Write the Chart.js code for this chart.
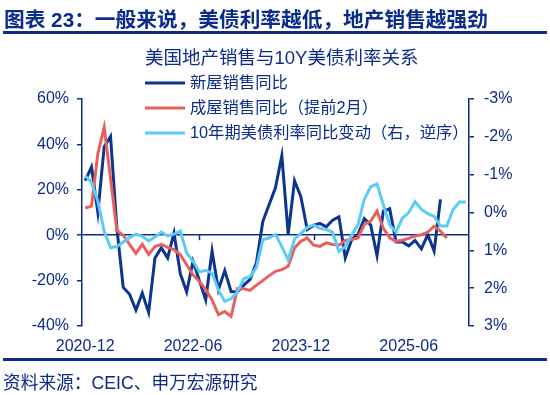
<!DOCTYPE html>
<html>
<head>
<meta charset="utf-8">
<script src="https://cdn.jsdelivr.net/npm/chart.js@4"></script>
<style>
  body { margin: 0; background: #fff; }
  #wrap { position: relative; width: 550px; height: 395px; font-family: "Liberation Sans", "Noto Sans CJK SC", sans-serif; color: #0B2C8A; }
  #head { position: absolute; left: 4px; top: 3px; font-size: 20.7px; font-weight: bold; white-space: nowrap; }
  #rule1, #rule2 { position: absolute; left: 3px; width: 544px; height: 3px; background: #0B2C8A; }
  #rule1 { top: 31px; }
  #rule2 { top: 358px; }
  #ctitle { position: absolute; left: 145px; top: 43px; font-size: 18.5px; white-space: nowrap; }
  #source { position: absolute; left: 3px; top: 368px; font-size: 17.7px; white-space: nowrap; }
  canvas { position: absolute; left: 0; top: 0; }
</style>
</head>
<body>
<div id="wrap">
  <canvas id="myChart" width="550" height="395"></canvas>
  <div id="head">图表 23：一般来说，美债利率越低，地产销售越强劲</div>
  <div id="rule1"></div>
  <div id="ctitle">美国地产销售与10Y美债利率关系</div>
  <div id="rule2"></div>
  <div id="source">资料来源：CEIC、申万宏源研究</div>
</div>
<script>
// months 2020-12 .. 2025-12
const months = [];
for (let i = 0; i < 61; i++) {
  const d = new Date(2020, 11 + i, 1);
  months.push(d.getFullYear() + '-' + String(d.getMonth() + 1).padStart(2, '0'));
}
const tickLabels = ['2020-12', '2022-06', '2023-12', '2025-06'];
const tickIndex = [0, 17, 34, 51];
const tickMarks = [18, 36, 54];

// 新屋销售同比 (%)
const newHome = [24, 30, 10, 39, 43.5, 3, -23, -26, -33, -25.5,
  -34, -10, -5.6, -10, 1, -17, -25, -11.5, -20, -28.5,
  -7, -24, -15.6, -24.8, -25, -22, -19.5, -12, 6, 13.5,
  21, 35, 0.5, 24, 17, 2.5, 4.3, 5.2, 3.7, 6.6,
  8.1, -10, -2, 0.3, 7.3, 4.5, -9, 10.6, 11.6, -3,
  -3, -4.7, -2.3, -6, 0.3, -7, 15.8, null, null, null, null];

// 成屋销售同比（提前2月） (%)
const existingHome = [12, 12.8, 36, 47.5, 25, 2, 0, -4, -8, -4,
  -8.5, -5, -4, -5.4, -6.3, -8.6, -13, -17.5, -20.4, -24,
  -28.5, -35, -33.6, -35.8, -23.5, -23.6, -24.3, -22, -20, -17.8,
  -15.9, -15.2, -13.7, -5.6, -2.7, -1.2, -4.4, -4.9, -3.4, -4.1,
  -4.4, -2.3, -1.9, -1.2, 4.7, 6.2, 10.6, 3, -1.2, -2.7,
  -2.2, -1.4, -0.4, 0.2, 1.3, 4, 1.8, -1.2, null, null, null];

// 10年期美债利率同比变动 (pct pt, right axis reversed)
const ust10y = [-0.97, -0.8, -0.3, 0.5, 0.93, 0.9, 0.78, 0.66, 0.57, 0.63,
  0.75, 0.65, 0.52, 0.62, 0.57, 0.49, 1.07, 1.29, 1.57, 1.53,
  1.6, 2.05, 2.35, 2.28, 2.1, 1.75, 1.69, 1.45, 0.72, 0.67,
  0.58, 0.9, 1.25, 0.7, 0.55, 0.4, 0.33, 0.42, 0.45, 0.52,
  1.03, 0.9, 0.6, 0.32, -0.35, -0.68, -0.75, -0.2, 0.33, 0.52,
  0.15, 0, -0.29, -0.08, 0.03, 0.1, 0.36, 0.36, -0.08, -0.28, -0.28];

const axisColor = '#0B2C8A';
const darkBlue = '#0C3591';
const red = '#E8605C';
const lightBlue = '#5CCBF5';
const font = { family: '"Liberation Sans", "Noto Sans CJK SC", sans-serif', size: 16 };

// legend drawn inside the plot, top left, and small x tick marks on the zero line
const extras = {
  id: 'extras',
  afterDatasetsDraw(chart) {
    const ctx = chart.ctx;
    const xs = chart.scales.x, ys = chart.scales.y;
    const y0 = ys.getPixelForValue(0);
    ctx.save();
    ctx.strokeStyle = axisColor;
    ctx.lineWidth = 1.5;
    tickMarks.forEach(i => {
      const x = Math.round(xs.getPixelForValue(i)) + 0.5;
      ctx.beginPath();
      ctx.moveTo(x, y0);
      ctx.lineTo(x, y0 + 5);
      ctx.stroke();
    });
    ctx.font = '16.3px "Liberation Sans", "Noto Sans CJK SC", sans-serif';
    ctx.textBaseline = 'middle';
    chart.data.datasets.forEach((ds, k) => {
      const y = 83 + k * 25;
      ctx.strokeStyle = ds.borderColor;
      ctx.lineWidth = 3;
      ctx.beginPath();
      ctx.moveTo(145, y);
      ctx.lineTo(185, y);
      ctx.stroke();
      ctx.fillStyle = axisColor;
      ctx.fillText(ds.label, 190, y + 1);
    });
    ctx.restore();
  }
};

new Chart(document.getElementById('myChart'), {
  type: 'line',
  data: {
    labels: months,
    datasets: [
      { label: '新屋销售同比', data: newHome, borderColor: darkBlue, yAxisID: 'y', order: 3 },
      { label: '成屋销售同比（提前2月）', data: existingHome, borderColor: red, yAxisID: 'y', order: 2 },
      { label: '10年期美债利率同比变动（右，逆序）', data: ust10y, borderColor: lightBlue, yAxisID: 'y1', order: 1 }
    ]
  },
  options: {
    responsive: false,
    animation: false,
    devicePixelRatio: 1,
    layout: { padding: { top: 99, left: 0, right: 0, bottom: 0 } },
    elements: {
      line: { borderWidth: 3, tension: 0, fill: false },
      point: { radius: 0 }
    },
    plugins: { legend: { display: false }, tooltip: { enabled: false } },
    scales: {
      x: {
        offset: true,
        grid: { display: false },
        border: { display: false },
        afterFit: s => { s.height = 69; },
        ticks: {
          autoSkip: false,
          maxRotation: 0,
          padding: 3,
          color: axisColor,
          font: font,
          callback: (v, i) => {
            const k = tickIndex.indexOf(i);
            return k >= 0 ? tickLabels[k] : '';
          }
        }
      },
      y: {
        position: 'left',
        min: -40,
        max: 60,
        afterFit: s => { s.width = 82; },
        ticks: { stepSize: 20, padding: 8, color: axisColor, font: font, callback: v => v + '%' },
        grid: {
          drawOnChartArea: true,
          tickLength: 5,
          tickColor: axisColor,
          lineWidth: 1.5,
          color: c => (c.tick && c.tick.value === 0 ? axisColor : 'rgba(0,0,0,0)')
        },
        border: { display: true, color: axisColor, width: 1.5 }
      },
      y1: {
        position: 'right',
        min: -3,
        max: 3,
        reverse: true,
        afterFit: s => { s.width = 81; },
        ticks: { stepSize: 1, padding: 10, color: axisColor, font: font, callback: v => v + '%' },
        grid: { drawOnChartArea: false, tickLength: 5, tickColor: axisColor, lineWidth: 1.5 },
        border: { display: true, color: axisColor, width: 1.5 }
      }
    }
  },
  plugins: [extras]
});
</script>
</body>
</html>
